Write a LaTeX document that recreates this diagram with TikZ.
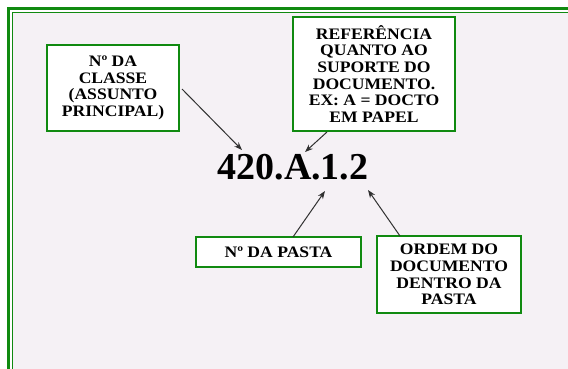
\documentclass[tikz,border=0pt]{standalone}
\usepackage{fontspec}
\setmainfont{Liberation Serif}
\newfontfamily\boxfont[FakeStretch=1.1]{Liberation Serif}
\usetikzlibrary{arrows.meta,calc}
\definecolor{frameg}{HTML}{108A10}
\definecolor{bgpink}{HTML}{F5F1F5}
\definecolor{lineg}{HTML}{303030}
\tikzset{
  greenbox/.style={draw=frameg,line width=2.2pt,fill=white,align=center,inner sep=0pt,
    font=\boxfont\fontsize{16pt}{16.7pt}\selectfont\bfseries},
  pointer/.style={draw=lineg,line width=1pt,-{Stealth[length=8pt,width=6pt]}}
}
\begin{document}
\begin{tikzpicture}[x=1pt,y=-1pt]
\useasboundingbox (0,0) rectangle (568,369);
\fill[white] (0,0) rectangle (568,369);
\fill[bgpink] (12,12) rectangle (570,371);
\draw[frameg,line width=3.4pt] (8.7,380) -- (8.7,8.7) -- (580,8.7);
\draw[frameg,line width=1.4pt] (12.6,380) -- (12.6,12.6) -- (580,12.6);

\node[greenbox,minimum width=132pt,minimum height=86pt] (b1) at (113,88) {Nº DA\\CLASSE\\(ASSUNTO\\PRINCIPAL)};
\node[greenbox,minimum width=162pt,minimum height=114pt] (b2) at (374,74) {REFERÊNCIA\\QUANTO AO\\SUPORTE DO\\DOCUMENTO.\\EX: A = DOCTO\\EM PAPEL};
\node[greenbox,minimum width=165pt,minimum height=30pt] (b3) at (278.5,252) {Nº DA PASTA};
\node[greenbox,minimum width=144pt,minimum height=77pt] (b4) at (449,274.5) {ORDEM DO\\DOCUMENTO\\DENTRO DA\\PASTA};

\node[inner sep=0pt,font=\fontsize{38pt}{42pt}\selectfont\bfseries] (code) at (293,167) {420.A.1.2};

\coordinate (s1) at (182,89);
\coordinate (t1) at (242,150);
\coordinate (s2) at (327,132);
\coordinate (t2) at (305,152);
\coordinate (s3) at (293,237);
\coordinate (t3) at (325,191);
\coordinate (s4) at (400,236);
\coordinate (t4) at (368,190);

\draw[pointer] (s1) -- (t1);
\draw[pointer] (s2) -- (t2);
\draw[pointer] (s3) -- (t3);
\draw[pointer] (s4) -- (t4);
\end{tikzpicture}
\end{document}
